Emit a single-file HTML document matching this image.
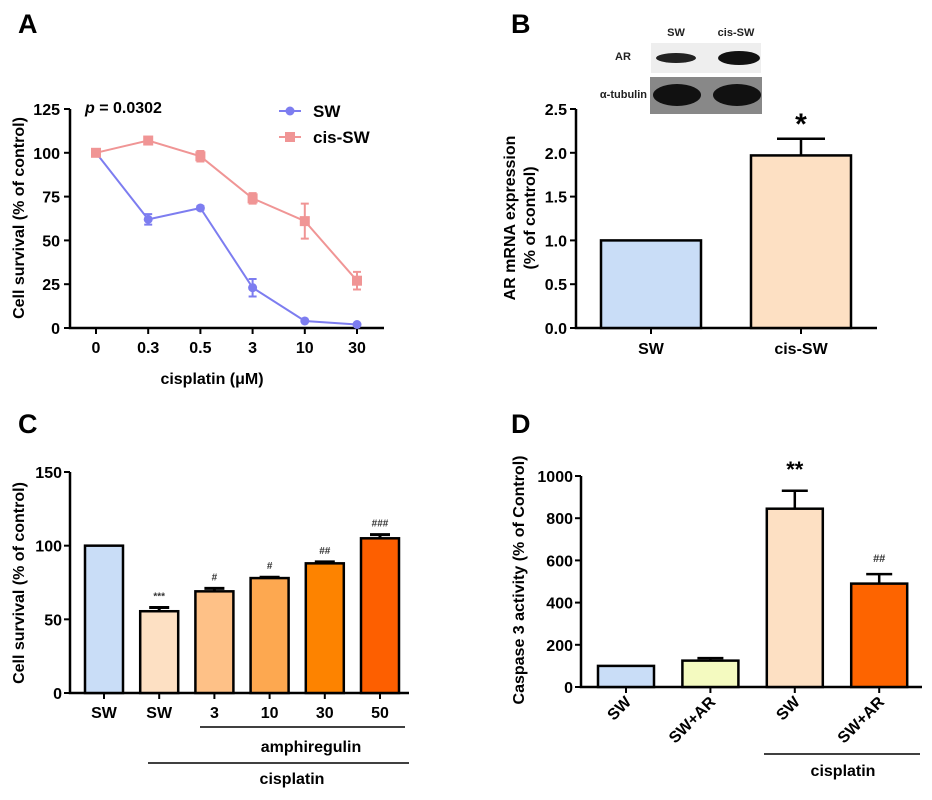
<!DOCTYPE html>
<html><head><meta charset="utf-8">
<style>
html,body{margin:0;padding:0;background:#fff;}
svg{display:block;font-family:"Liberation Sans",Arial,sans-serif;font-weight:bold;}
</style></head>
<body>
<svg id="fig" width="932" height="800" viewBox="0 0 932 800">
 <text x="18" y="33" font-size="27">A</text>
 <text x="511" y="33" font-size="27">B</text>
 <text x="18" y="433" font-size="27">C</text>
 <text x="511" y="433" font-size="27">D</text>
 <g id="gA"></g>
 <g id="gB"></g>
 <g id="gC"></g>
 <g id="gD"></g>
</svg>
<script>
// Panel A data
const aCategories = ["0","0.3","0.5","3","10","30"];
const aSW = [100, 62, 68.5, 23, 4, 2];
const aSWErr = [0, 3, 1, 5, 0.5, 0.5];
const aCis = [100, 107, 98, 74, 61, 27];
const aCisErr = [0, 2, 3, 3, 10, 5];
const aTicks = [0, 25, 50, 75, 100, 125];
// Panel B data
const bCategories = ["SW","cis-SW"];
const bValues = [1.0, 1.97];
const bErr = [0, 0.19];
const bTicks = ["0.0","0.5","1.0","1.5","2.0","2.5"];
// Panel C data
const cCategories = ["SW","SW","3","10","30","50"];
const cValues = [100, 55.5, 69, 78, 88, 105];
const cErr = [0, 2.5, 2, 0.6, 1, 2.5];
const cMarks = ["","***","#","#","##","###"];
const cTicks = [0, 50, 100, 150];
// Panel D data
const dCategories = ["SW","SW+AR","SW","SW+AR"];
const dValues = [100, 125, 845, 490];
const dErr = [0, 12, 85, 45];
const dMarks = ["","","**","##"];
const dTicks = [0, 200, 400, 600, 800, 1000];

const NS="http://www.w3.org/2000/svg";
function mk(parent,tag,attrs,text){
  const e=document.createElementNS(NS,tag);
  for(const k in attrs) e.setAttribute(k,attrs[k]);
  if(text!==undefined) e.textContent=text;
  parent.appendChild(e); return e;
}

// ---------- Panel A ----------
(function(){
  const g=document.getElementById('gA');
  const y=v=>328-v*(219/125);
  const x=i=>96+i*52.2;
  let ax=mk(g,'path',{d:'M70 109V328H384',stroke:'#000','stroke-width':2.5,fill:'none'});
  
  
  aTicks.forEach(t=>{
    mk(g,'line',{x1:64,x2:70,y1:y(t),y2:y(t),stroke:'#000','stroke-width':2});
    const l=mk(g,'text',{x:60,y:y(t)+6,'font-size':16,'text-anchor':'end'},t);
    
    
  });
  aCategories.forEach((c,i)=>{
    mk(g,'line',{x1:x(i),x2:x(i),y1:328,y2:334,stroke:'#000','stroke-width':2});
    const l=mk(g,'text',{x:x(i),y:353,'font-size':16,'text-anchor':'middle'},c);
    
    
  });
  const series=[[aSW,aSWErr,'#7d7df0','circle','sw'],[aCis,aCisErr,'#f09595','square','cis-sw']];
  series.forEach(([vals,err,col,shape,nm])=>{
    const ln=mk(g,'polyline',{points:vals.map((v,i)=>x(i)+','+y(v)).join(' '),fill:'none',stroke:col,'stroke-width':2});
    
    
    vals.forEach((v,i)=>{
      if(err[i]>0.8){
        mk(g,'path',{d:`M${x(i)} ${y(v+err[i])}V${y(v-err[i])}M${x(i)-4} ${y(v+err[i])}h8M${x(i)-4} ${y(v-err[i])}h8`,stroke:col,'stroke-width':2,fill:'none'});
      }
      let p;
      if(shape==='circle') p=mk(g,'circle',{cx:x(i),cy:y(v),r:4.5,fill:col});
      else p=mk(g,'rect',{x:x(i)-5,y:y(v)-5,width:10,height:10,fill:col});
      
      
    });
  });
  const yl=mk(g,'text',{transform:'translate(24 218) rotate(-90)','font-size':16,'text-anchor':'middle'},'Cell survival (% of control)');
  
  
  const xl=mk(g,'text',{x:212,y:384,'font-size':16,'text-anchor':'middle'},'cisplatin (\u03bcM)');
  
  
  const pt=mk(g,'text',{x:85,y:113,'font-size':16});
  
  
  mk(pt,'tspan',{'font-style':'italic'},'p');
  mk(pt,'tspan',{},' = 0.0302');
  // legend
  mk(g,'line',{x1:279,x2:301,y1:111,y2:111,stroke:'#7d7df0','stroke-width':2});
  mk(g,'circle',{cx:290,cy:111,r:4.5,fill:'#7d7df0'});
  let t1=mk(g,'text',{x:313,y:117,'font-size':17},'SW');
  
  
  mk(g,'line',{x1:279,x2:301,y1:137,y2:137,stroke:'#f09595','stroke-width':2});
  mk(g,'rect',{x:285,y:132,width:10,height:10,fill:'#f09595'});
  let t2=mk(g,'text',{x:313,y:143,'font-size':17},'cis-SW');
  
  
})();

// ---------- Panel B ----------
(function(){
  const g=document.getElementById('gB');
  const y=v=>328-v*(219/2.5);
  const cx=[651,801];
  const cols=['#c9ddf7','#fde0c3'];
  const wb=mk(g,'g',{});
  
  
  mk(wb,'rect',{x:651,y:43,width:110,height:30,fill:'#eeeeee'});
  mk(wb,'ellipse',{cx:676,cy:58,rx:20,ry:5,fill:'#222'});
  mk(wb,'ellipse',{cx:739,cy:58,rx:21,ry:7,fill:'#111'});
  mk(wb,'rect',{x:650,y:77,width:112,height:37,fill:'#888'});
  mk(wb,'ellipse',{cx:677,cy:95,rx:24,ry:11,fill:'#111'});
  mk(wb,'ellipse',{cx:737,cy:95,rx:24,ry:11,fill:'#111'});
  mk(wb,'text',{x:676,y:36,'font-size':11,'text-anchor':'middle',fill:'#222'},'SW');
  mk(wb,'text',{x:736,y:36,'font-size':11,'text-anchor':'middle',fill:'#222'},'cis-SW');
  mk(wb,'text',{x:623,y:60,'font-size':11,'text-anchor':'middle',fill:'#222'},'AR');
  mk(wb,'text',{x:647,y:98,'font-size':11,'text-anchor':'end',fill:'#222'},'\u03b1-tubulin');
  mk(g,'path',{d:'M576 109V328H877',stroke:'#000','stroke-width':2.5,fill:'none'});
  bTicks.forEach(t=>{
    const v=parseFloat(t);
    mk(g,'line',{x1:570,x2:576,y1:y(v),y2:y(v),stroke:'#000','stroke-width':2});
    const l=mk(g,'text',{x:567,y:y(v)+6,'font-size':16,'text-anchor':'end'},t);
    
    
  });
  bValues.forEach((v,i)=>{
    if(bErr[i]>0) mk(g,'path',{d:`M${cx[i]} ${y(v)}V${y(v+bErr[i])}M${cx[i]-24} ${y(v+bErr[i])}h48`,stroke:'#000','stroke-width':2.5,fill:'none'});
    const r=mk(g,'rect',{x:cx[i]-50,y:y(v),width:100,height:328-y(v),fill:cols[i],stroke:'#000','stroke-width':2.5});
    
    
    mk(g,'line',{x1:cx[i],x2:cx[i],y1:328,y2:334,stroke:'#000','stroke-width':2});
    const l=mk(g,'text',{x:cx[i],y:354,'font-size':16,'text-anchor':'middle'},bCategories[i]);
    
    
  });
  const st=mk(g,'text',{x:801,y:134,'font-size':30,'text-anchor':'middle'},'*');
  
  
  const yl=mk(g,'text',{transform:'translate(515 218) rotate(-90)','font-size':16,'text-anchor':'middle'});
  
  
  mk(yl,'tspan',{x:0,y:0},'AR mRNA expression');
  mk(yl,'tspan',{x:0,y:20},'(% of control)');
})();

// ---------- Panel C ----------
(function(){
  const g=document.getElementById('gC');
  const y=v=>693-v*(221/150);
  const x=i=>104+i*55.2;
  const cols=['#c9ddf7','#fde0c3','#fec187','#fda850','#fd8300','#fd5f00'];
  mk(g,'path',{d:'M70 472V693H409',stroke:'#000','stroke-width':2.5,fill:'none'});
  cTicks.forEach(t=>{
    mk(g,'line',{x1:64,x2:70,y1:y(t),y2:y(t),stroke:'#000','stroke-width':2});
    const l=mk(g,'text',{x:62,y:y(t)+6,'font-size':16,'text-anchor':'end'},t);
    
    
  });
  cValues.forEach((v,i)=>{
    if(cErr[i]>0) mk(g,'path',{d:`M${x(i)} ${y(v)}V${y(v+cErr[i])}M${x(i)-10} ${y(v+cErr[i])}h20`,stroke:'#000','stroke-width':3,fill:'none'});
    const r=mk(g,'rect',{x:x(i)-19,y:y(v),width:38,height:693-y(v),fill:cols[i],stroke:'#000','stroke-width':2.5});
    
    
    mk(g,'line',{x1:x(i),x2:x(i),y1:693,y2:699,stroke:'#000','stroke-width':2});
    const l=mk(g,'text',{x:x(i),y:718,'font-size':16,'text-anchor':'middle'},cCategories[i]);
    
    
    if(cMarks[i]){
      const m=mk(g,'text',{x:x(i),y:y(v+cErr[i])-8,'font-size':10,'text-anchor':'middle',fill:'#333'},cMarks[i]);
      
      
    }
  });
  mk(g,'line',{x1:200,x2:405,y1:727,y2:727,stroke:'#000','stroke-width':1.5});
  let a=mk(g,'text',{x:311,y:752,'font-size':16,'text-anchor':'middle'},'amphiregulin');
  
  
  mk(g,'line',{x1:148,x2:409,y1:763,y2:763,stroke:'#000','stroke-width':1.5});
  let c=mk(g,'text',{x:292,y:784,'font-size':16,'text-anchor':'middle'},'cisplatin');
  
  
  const yl=mk(g,'text',{transform:'translate(24 583) rotate(-90)','font-size':16,'text-anchor':'middle'},'Cell survival (% of control)');
  
  
})();

// ---------- Panel D ----------
(function(){
  const g=document.getElementById('gD');
  const y=v=>687-v*(211/1000);
  const x=i=>626+i*84.4;
  const cols=['#c9ddf7','#f4fac0','#fde0c3','#fd6400'];
  mk(g,'path',{d:'M581 476V687H922',stroke:'#000','stroke-width':2.5,fill:'none'});
  dTicks.forEach(t=>{
    mk(g,'line',{x1:575,x2:581,y1:y(t),y2:y(t),stroke:'#000','stroke-width':2});
    const l=mk(g,'text',{x:573,y:y(t)+6,'font-size':16,'text-anchor':'end'},t);
    
    
  });
  dValues.forEach((v,i)=>{
    if(dErr[i]>0) mk(g,'path',{d:`M${x(i)} ${y(v)}V${y(v+dErr[i])}M${x(i)-13} ${y(v+dErr[i])}h26`,stroke:'#000','stroke-width':2.5,fill:'none'});
    const r=mk(g,'rect',{x:x(i)-28,y:y(v),width:56,height:687-y(v),fill:cols[i],stroke:'#000','stroke-width':2.5});
    
    
    mk(g,'line',{x1:x(i),x2:x(i),y1:687,y2:693,stroke:'#000','stroke-width':2});
    const l=mk(g,'text',{transform:`translate(${x(i)+6} 703) rotate(-45)`,'font-size':16,'text-anchor':'end'},dCategories[i]);
    
    
    if(dMarks[i]){
      const big=dMarks[i]==='**';
      const m=mk(g,'text',{x:x(i),y:y(v+dErr[i])-(big?14:12),'font-size':big?22:11,'text-anchor':'middle',fill:big?'#000':'#333'},dMarks[i]);
      
      
    }
  });
  mk(g,'line',{x1:764,x2:920,y1:754,y2:754,stroke:'#000','stroke-width':1.5});
  let c=mk(g,'text',{x:843,y:776,'font-size':16,'text-anchor':'middle'},'cisplatin');
  
  
  const yl=mk(g,'text',{transform:'translate(524 580) rotate(-90)','font-size':16,'text-anchor':'middle'},'Caspase 3 activity (% of Control)');
  
  
})();
</script>
</body></html>
